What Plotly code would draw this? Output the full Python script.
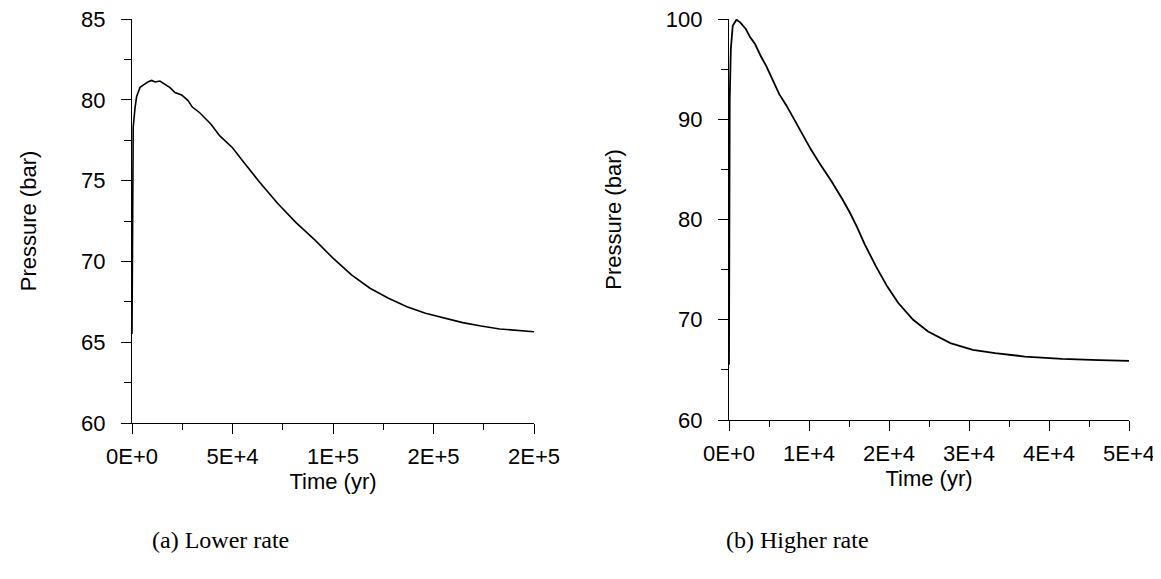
import plotly.graph_objects as go

# ---- Data ----
# (a) Lower rate
time_a = [0, 200, 600, 1500, 2300, 4000, 6500, 8100, 9800, 11500, 13900, 16400,
          18900, 21400, 24700, 27900, 30000, 33700, 39200, 43800, 49900, 55800,
          63200, 72400, 81600, 90800, 100000, 109200, 118400, 127600, 136800,
          146000, 155300, 164500, 173700, 182900, 200000]
pres_a = [65.5, 75.0, 78.3, 79.5, 80.2, 80.77, 81.02, 81.12, 81.2, 81.1, 81.16, 80.95,
          80.75, 80.45, 80.3, 79.95, 79.55, 79.2, 78.5, 77.75, 77.05, 76.1,
          74.95, 73.6, 72.4, 71.35, 70.2, 69.17, 68.34, 67.72, 67.2,
          66.79, 66.48, 66.21, 66.0, 65.82, 65.65]

# (b) Higher rate
time_b = [0, 90, 230, 465, 930, 1400, 2100, 2650, 3260, 3950, 4650, 5350, 6280,
          7210, 8140, 9070, 10230, 11400, 12790, 14190, 15120, 16050, 16980,
          18370, 19770, 21160, 23020, 24880, 27670, 30470, 33260, 36980,
          41630, 46280, 50000]
pres_b = [65.5, 92.0, 97.0, 99.33, 99.93, 99.67, 99.0, 98.17, 97.5, 96.33, 95.33,
          94.17, 92.5, 91.33, 90.0, 88.67, 87.0, 85.5, 83.83, 82.0, 80.67, 79.17,
          77.5, 75.33, 73.33, 71.67, 70.0, 68.83, 67.67, 67.0, 66.67, 66.33,
          66.1, 65.97, 65.9]

xticks_a = [0, 50000, 100000, 150000, 200000]
xticktext_a = ["0E+0", "5E+4", "1E+5", "2E+5", "2E+5"]
xminor_a = [25000, 75000, 125000, 175000]
xticks_b = [0, 10000, 20000, 30000, 40000, 50000]
xticktext_b = ["0E+0", "1E+4", "2E+4", "3E+4", "4E+4", "5E+4"]
xminor_b = [5000, 15000, 25000, 35000, 45000]

captions = ["(a) Lower rate", "(b) Higher rate"]

W, H = 1161, 579
OFF = 8  # the page body adds an 8px margin; positions below are screen pixels
FONT = "Liberation Sans, Arial, sans-serif"
SERIF = "Liberation Serif, Times New Roman, serif"
FS = 22


def px_x(p):
    return (p - OFF) / W


def px_y(p):
    return 1 - (p - OFF) / H


fig = go.Figure()
fig.add_trace(go.Scatter(x=time_a, y=pres_a, mode="lines",
                         line=dict(color="black", width=1.6),
                         xaxis="x", yaxis="y", showlegend=False))
fig.add_trace(go.Scatter(x=time_b, y=pres_b, mode="lines",
                         line=dict(color="black", width=1.8),
                         xaxis="x2", yaxis="y2", showlegend=False))

axis_common = dict(showline=True, linecolor="black", linewidth=1.3,
                   ticks="outside", ticklen=10, tickwidth=1.3, tickcolor="black",
                   showgrid=False, zeroline=False, automargin=False,
                   ticklabeloverflow="allow",
                   tickfont=dict(family=FONT, size=FS, color="black"))

xminor_style = dict(ticks="outside", ticklen=6, tickwidth=1.3, tickcolor="black")
yminor_style = dict(ticks="outside", ticklen=7, tickwidth=1.3, tickcolor="black")

fig.update_layout(
    template="none",
    width=W, height=H,
    margin=dict(l=0, r=0, t=0, b=0, pad=0),
    paper_bgcolor="white", plot_bgcolor="white",
    font=dict(family=FONT, size=FS, color="black"),
    xaxis=dict(domain=[px_x(132), px_x(534)], anchor="y", range=[0, 200000],
               tickmode="array", tickvals=xticks_a, ticktext=xticktext_a,
               minor=dict(tickmode="array", tickvals=xminor_a, **xminor_style),
               ticklabelstandoff=3,
               title=dict(text="Time (yr)", font=dict(family=FONT, size=FS), standoff=4),
               **axis_common),
    yaxis=dict(domain=[px_y(423), px_y(19)], anchor="x", range=[60, 85],
               tickmode="linear", tick0=60, dtick=5,
               minor=dict(tickmode="linear", tick0=62.5, dtick=5, **yminor_style),
               ticklabelstandoff=11,
               title=dict(text="Pressure (bar)", font=dict(family=FONT, size=FS), standoff=38),
               **axis_common),
    xaxis2=dict(domain=[px_x(729), px_x(1129)], anchor="y2", range=[0, 50000],
                tickmode="array", tickvals=xticks_b, ticktext=xticktext_b,
                minor=dict(tickmode="array", tickvals=xminor_b, **xminor_style),
                ticklabelstandoff=3,
                title=dict(text="Time (yr)", font=dict(family=FONT, size=FS), standoff=4),
                **axis_common),
    yaxis2=dict(domain=[px_y(420), px_y(19)], anchor="x2", range=[60, 100],
                tickmode="linear", tick0=60, dtick=10,
                minor=dict(tickmode="linear", tick0=65, dtick=10, **yminor_style),
                ticklabelstandoff=11,
                title=dict(text="Pressure (bar)", font=dict(family=FONT, size=FS), standoff=38),
                **axis_common),
)

fig.add_annotation(text=captions[0], xref="paper", yref="paper",
                   x=px_x(220), y=px_y(540), xanchor="center", yanchor="middle",
                   showarrow=False, font=dict(family=SERIF, size=24, color="black"))
fig.add_annotation(text=captions[1], xref="paper", yref="paper",
                   x=px_x(797), y=px_y(540), xanchor="center", yanchor="middle",
                   showarrow=False, font=dict(family=SERIF, size=24, color="black"))

fig.write_html("out.html")
